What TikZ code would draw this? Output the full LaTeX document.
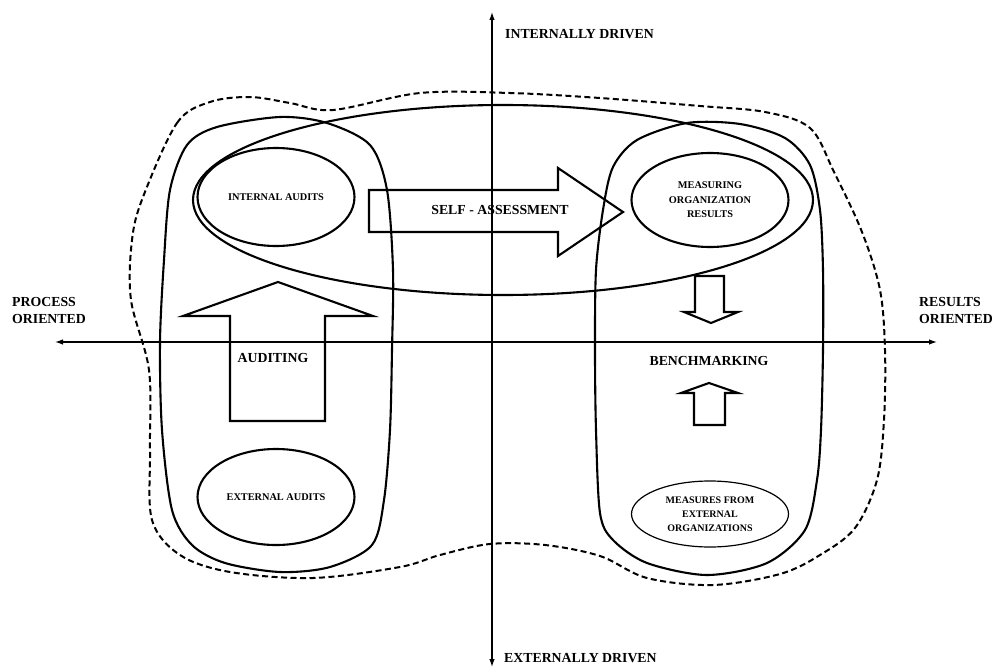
\documentclass[tikz,border=0pt]{standalone}
\usepackage{fontspec}
\setmainfont{Liberation Serif}
\usetikzlibrary{arrows.meta,shapes.geometric}

\begin{document}
\begin{tikzpicture}[x=1pt,y=-1pt,
  outline/.style={line width=2.1pt, line join=round},
  cloudline/.style={line width=2pt, dash pattern=on 6pt off 3.5pt},
  axis/.style={line width=1.2pt, {Latex[length=8pt,width=5.5pt]}-{Latex[length=8pt,width=5.5pt]}},
  oval/.style={ellipse, draw, line width=2.1pt, inner sep=0pt, align=center,
    font=\bfseries\fontsize{10.3}{14.5}\selectfont},
  biglabel/.style={font=\bfseries\fontsize{13.8}{17}\selectfont, inner sep=0pt},
  blockarrow/.style={line width=2.1pt, line join=miter}]
\useasboundingbox (0,0) rectangle (994,669);

% dashed boundary around everything
\draw[cloudline] plot[smooth cycle, tension=0.55] coordinates {
  (143,197) (177,123) (210,102) (250,97) (290,103) (333,110) (420,93)
  (510,93) (600,98) (700,106) (765,112) (810,128) (834,172) (862,232)
  (880,290) (885,350) (884,420) (877,480) (855,528) (820,555) (780,574)
  (713,585) (647,578) (600,556) (545,545) (490,544) (440,555) (400,567)
  (313,578) (230,572) (180,555) (152,520) (150,450) (149,370) (131,300)
  (132,240)};

% axes
\coordinate (xl) at (55,342);
\coordinate (xr) at (937,342);
\coordinate (yt) at (492,12);
\coordinate (yb) at (492,667);
\draw[axis] (xl) -- (xr);
\draw[axis] (yb) -- (yt);

% process-oriented group (auditing)
\draw[outline] plot[smooth cycle, tension=0.5] coordinates {
  (170,190) (187,145) (217,127) (280,117) (327,123) (370,145) (387,190)
  (393,270) (392,350) (390,430) (384,500) (372,545) (330,567) (280,572)
  (225,563) (192,545) (172,510) (162,430) (160,342) (164,260)};

% results-oriented group (benchmarking)
\draw[outline] plot[smooth cycle, tension=0.5] coordinates {
  (596,270) (603,210) (613,167) (637,140) (687,123) (740,124) (785,138)
  (810,165) (820,210) (823,270) (823,350) (821,430) (817,480) (805,530)
  (767,563) (707,575) (647,563) (613,540) (600,513) (596,430) (595,350)};

% self-assessment oval
\draw[outline] (503,200) ellipse [x radius=310, y radius=95];

% activity ovals
\node[oval, minimum width=157pt, minimum height=98pt] (intaud) at (276,197)
  {INTERNAL AUDITS};
\node[oval, minimum width=157pt, minimum height=96pt] (extaud) at (276,497)
  {EXTERNAL AUDITS};
\node[oval, minimum width=157pt, minimum height=94pt] (measorg) at (710,200)
  {MEASURING\\ORGANIZATION\\RESULTS};
\node[oval, line width=1.2pt, minimum width=157pt, minimum height=66pt,
  font=\bfseries\fontsize{10}{14}\selectfont] (measext) at (710,514)
  {MEASURES FROM\\EXTERNAL\\ORGANIZATIONS};

% block arrows
\draw[blockarrow] (369,190) -- (558,190) -- (558,168) -- (623,212)
  -- (558,256) -- (558,232) -- (369,232) -- cycle;
\draw[blockarrow] (230,421) -- (230,316) -- (183,316) -- (278,282)
  -- (373,316) -- (325,316) -- (325,421) -- cycle;
\draw[blockarrow] (695,276) -- (724,276) -- (724,312) -- (738,312)
  -- (711,323) -- (684,312) -- (695,312) -- cycle;
\draw[blockarrow] (694,425) -- (694,393) -- (681,393) -- (709,383)
  -- (738,393) -- (725,393) -- (725,425) -- cycle;

% labels
\node[biglabel] (selfass) at (500,210) {SELF - ASSESSMENT};
\node[biglabel] (auditing) at (273,358) {AUDITING};
\node[biglabel] (bench) at (709,361) {BENCHMARKING};
\node[biglabel, anchor=west] (intdrv) at (505,34) {INTERNALLY DRIVEN};
\node[biglabel, anchor=west] (extdrv) at (504,658) {EXTERNALLY DRIVEN};
\node[biglabel, anchor=west, align=left] (procor) at (12,310)
  {PROCESS\\ORIENTED};
\node[biglabel, anchor=west, align=left] (resor) at (919,310)
  {RESULTS\\ORIENTED};
\end{tikzpicture}
\end{document}
